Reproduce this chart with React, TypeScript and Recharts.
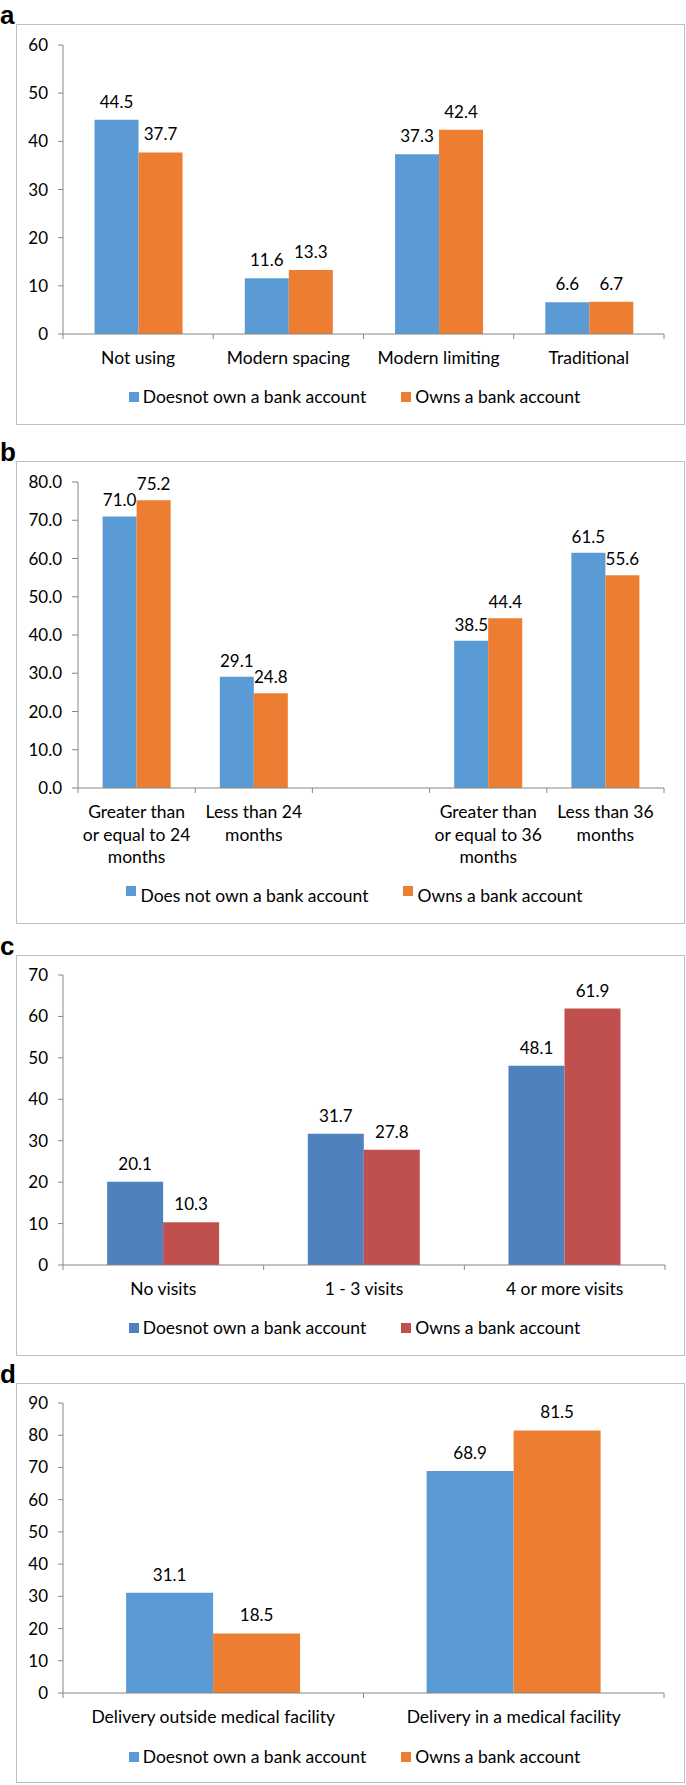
import React from 'react';
import { BarChart, Bar, XAxis, YAxis, Legend, LabelList } from 'recharts';

// ---------- Data ----------
const catsA = ['Not using', 'Modern spacing', 'Modern limiting', 'Traditional'];
const noAccA = [44.5, 11.6, 37.3, 6.6];
const accA = [37.7, 13.3, 42.4, 6.7];
const ticksA = [0, 10, 20, 30, 40, 50, 60];

const catsB = ['Greater than\nor equal to 24\nmonths', 'Less than 24\nmonths', '', 'Greater than\nor equal to 36\nmonths', 'Less than 36\nmonths'];
const noAccB: (number | null)[] = [71.0, 29.1, null, 38.5, 61.5];
const accB: (number | null)[] = [75.2, 24.8, null, 44.4, 55.6];
const ticksB = [0, 10, 20, 30, 40, 50, 60, 70, 80];

const catsC = ['No visits', '1 - 3 visits', '4 or more visits'];
const noAccC = [20.1, 31.7, 48.1];
const accC = [10.3, 27.8, 61.9];
const ticksC = [0, 10, 20, 30, 40, 50, 60, 70];

const catsD = ['Delivery outside medical facility', 'Delivery in a medical facility'];
const noAccD = [31.1, 68.9];
const accD = [18.5, 81.5];
const ticksD = [0, 10, 20, 30, 40, 50, 60, 70, 80, 90];

const nameNo = 'Doesnot own a bank account';
const nameNoB = 'Does not own a bank account';
const nameYes = 'Owns a bank account';

const BLUE = '#5B9BD5';
const ORANGE = '#ED7D31';
const BLUE_C = '#4F81BD';
const RED_C = '#C0504D';
const AXIS = '#868686';
const FONT = 'Lato, "Open Sans", sans-serif';
const TEXT_SIZE = 17.5;
const NUM_SIZE = 17;

const build = (cats: string[], a: (number | null)[], b: (number | null)[]) =>
  cats.map((c, i) => ({ name: c, no: a[i], yes: b[i] }));

function CatTick(props: any) {
  const { x, y, payload, index, visibleTicksCount, width } = props;
  const half =
    payload && typeof payload.offset === 'number' && payload.offset > 0
      ? payload.offset
      : width / visibleTicksCount / 2;
  const lines = String(payload.value).split('\n');
  return (
    <g>
      <line x1={x - half} x2={x - half} y1={y} y2={y + 5} stroke={AXIS} strokeWidth={1} />
      {index === visibleTicksCount - 1 && (
        <line x1={x + half} x2={x + half} y1={y} y2={y + 5} stroke={AXIS} strokeWidth={1} />
      )}
      <text x={x} y={y + 30} textAnchor="middle" fontSize={TEXT_SIZE} fill="#000" fontFamily={FONT}>
        {lines.map((l, i) => (
          <tspan key={i} x={x} dy={i === 0 ? 0 : 22.5}>
            {l}
          </tspan>
        ))}
      </text>
    </g>
  );
}

function makeLegend(raised: boolean) {
  return (props: any) => {
    const payload = props.payload || [];
    return (
      <div
        style={{
          display: 'flex',
          justifyContent: 'center',
          alignItems: 'center',
          height: 20,
          fontFamily: FONT,
          fontSize: TEXT_SIZE,
          color: '#000',
        }}
      >
        {payload.map((p: any, i: number) => (
          <div key={i} style={{ display: 'flex', alignItems: 'center', marginLeft: i === 0 ? 0 : 35 }}>
            <div
              style={{
                width: 10,
                height: 10,
                background: p.color,
                marginRight: 4,
                position: 'relative',
                top: raised ? -5 : 0,
              }}
            />
            <span style={{ lineHeight: '20px' }}>{p.value}</span>
          </div>
        ))}
      </div>
    );
  };
}

type PanelProps = {
  letter: string;
  top: number;
  height: number;
  data: any[];
  ticks: number[];
  max: number;
  decimals: boolean;
  colors: [string, string];
  names: [string, string];
  yWidth: number;
  marginTop: number;
  marginRight: number;
  marginBottom: number;
  xHeight: number;
  gap: string;
  labelOffset: number;
  tickSize: number;
  raised?: boolean;
};

function Panel(p: PanelProps) {
  const fmt = (v: any) => (v === null || v === undefined ? '' : Number(v).toFixed(1));
  return (
    <>
      <div
        style={{
          position: 'absolute',
          left: 0,
          top: p.top - 22,
          fontFamily: '"Liberation Sans", Arial, sans-serif',
          fontWeight: 'bold',
          fontSize: 26,
          lineHeight: '26px',
          color: '#000',
        }}
      >
        {p.letter}
      </div>
      <div style={{ position: 'absolute', left: 16, top: p.top, width: 669, height: p.height, background: '#fff' }}>
        <BarChart
          width={669}
          height={p.height}
          data={p.data}
          margin={{ top: p.marginTop, right: p.marginRight, left: 0, bottom: p.marginBottom }}
          barCategoryGap={p.gap}
          barGap={0}
          style={{ fontFamily: FONT }}
        >
          <XAxis
            dataKey="name"
            interval={0}
            tickLine={false}
            tickSize={0}
            tickMargin={0}
            height={p.xHeight}
            axisLine={{ stroke: AXIS }}
            tick={<CatTick />}
          />
          <YAxis
            width={p.yWidth}
            domain={[0, p.max]}
            ticks={p.ticks}
            interval={0}
            allowDataOverflow
            tickSize={p.tickSize}
            tickMargin={10}
            axisLine={{ stroke: AXIS }}
            tickLine={{ stroke: AXIS }}
            tick={{ fill: '#000', fontSize: NUM_SIZE, fontFamily: FONT }}
            tickFormatter={(v: number) => (p.decimals ? v.toFixed(1) : String(v))}
          />
          <Legend
            verticalAlign="bottom"
            align="center"
            wrapperStyle={{ left: 8, width: 661 }}
            content={makeLegend(!!p.raised)}
          />
          <Bar dataKey="no" name={p.names[0]} fill={p.colors[0]} isAnimationActive={false}>
            <LabelList
              dataKey="no"
              position="top"
              offset={p.labelOffset}
              fill="#000"
              fontSize={NUM_SIZE}
              fontFamily={FONT}
              formatter={fmt}
            />
          </Bar>
          <Bar dataKey="yes" name={p.names[1]} fill={p.colors[1]} isAnimationActive={false}>
            <LabelList
              dataKey="yes"
              position="top"
              offset={p.labelOffset}
              fill="#000"
              fontSize={NUM_SIZE}
              fontFamily={FONT}
              formatter={fmt}
            />
          </Bar>
        </BarChart>
        <div
          style={{
            position: 'absolute',
            left: 0,
            top: 0,
            width: 669,
            height: p.height,
            boxSizing: 'border-box',
            border: '1.5px solid #BFBFBF',
            pointerEvents: 'none',
          }}
        />
      </div>
    </>
  );
}

export default function App() {
  return (
    <div style={{ position: 'absolute', left: 0, top: 0, width: 686, height: 1785, background: '#fff' }}>
      <Panel
        letter="a"
        top={24}
        height={401}
        data={build(catsA, noAccA, accA)}
        ticks={ticksA}
        max={60}
        decimals={false}
        colors={[BLUE, ORANGE]}
        names={[nameNo, nameYes]}
        yWidth={47}
        marginTop={21}
        marginRight={21}
        marginBottom={18}
        xHeight={53}
        gap="21%"
        labelOffset={12}
        tickSize={5}
      />
      <Panel
        letter="b"
        top={461}
        height={463}
        data={build(catsB, noAccB, accB)}
        ticks={ticksB}
        max={80}
        decimals={true}
        colors={[BLUE, ORANGE]}
        names={[nameNoB, nameYes]}
        yWidth={62}
        marginTop={21}
        marginRight={21}
        marginBottom={18}
        xHeight={98}
        gap="21%"
        labelOffset={10}
        tickSize={6}
        raised
      />
      <Panel
        letter="c"
        top={955}
        height={401}
        data={build(catsC, noAccC, accC)}
        ticks={ticksC}
        max={70}
        decimals={false}
        colors={[BLUE_C, RED_C]}
        names={[nameNo, nameYes]}
        yWidth={47}
        marginTop={20}
        marginRight={20}
        marginBottom={18}
        xHeight={53}
        gap="22%"
        labelOffset={12}
        tickSize={5}
      />
      <Panel
        letter="d"
        top={1383}
        height={400}
        data={build(catsD, noAccD, accD)}
        ticks={ticksD}
        max={90}
        decimals={false}
        colors={[BLUE, ORANGE]}
        names={[nameNo, nameYes]}
        yWidth={47}
        marginTop={20}
        marginRight={21}
        marginBottom={16}
        xHeight={54}
        gap="21%"
        labelOffset={12}
        tickSize={5}
      />
    </div>
  );
}
